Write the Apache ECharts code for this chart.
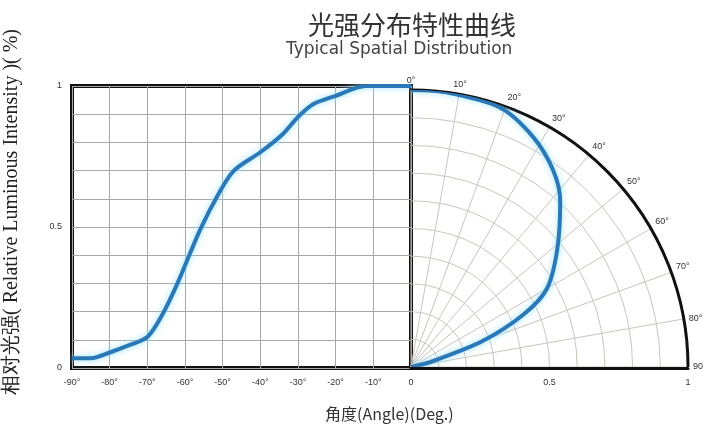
<!DOCTYPE html>
<html>
<head>
<meta charset="utf-8">
<script src="https://cdn.jsdelivr.net/npm/echarts@6/dist/echarts.min.js"></script>
<style>
  html, body { margin: 0; padding: 0; background: #fff; }
  #chart { width: 712px; height: 437px; }
</style>
</head>
<body>
<div id="chart"></div>
<script>
// left plot: angle (deg) vs relative intensity
const leftAngles = [-90, -85, -80, -75, -70, -66, -62, -56, -51, -47, -40, -34, -30, -26, -20, -12, -5, 0];
const leftValues = [0.035, 0.035, 0.055, 0.08, 0.11, 0.19, 0.3, 0.49, 0.62, 0.7, 0.765, 0.83, 0.89, 0.935, 0.965, 1.0, 1.0, 1.0];

// polar plot: angle (deg) vs relative intensity
const polarAngles = [0, 7, 19, 28, 36, 42, 51, 60, 65, 70, 75, 80];
const polarValues = [1.0, 1.0, 0.99, 0.94, 0.875, 0.805, 0.68, 0.567, 0.448, 0.277, 0.083, 0];

const yTickLabels = ['0', '0.5', '1'];
const rTickLabels = ['0.5', '1'];

const titleText = '光强分布特性曲线';
const subTitleText = 'Typical Spatial Distribution';
const xName = '角度(Angle)(Deg.)';
const yName = '相对光强( Relative Luminous Intensity )( %)';

const lineColor = '#2a78b8';
const glowColor = '#8fe0fb';
const gridColor = '#a8a8a8';
const polarGridColor = '#cbc5bd';

const chart = echarts.init(document.getElementById('chart'));

const fmt = (v) => String(Math.round(v * 10) / 10);

chart.setOption({
  backgroundColor: '#fff',
  animation: false,
  title: [
    {
      text: titleText,
      left: 303, top: 7,
      textStyle: { fontSize: 26, fontWeight: 'normal', color: '#333', fontFamily: 'Noto Sans CJK SC' }
    },
    {
      text: subTitleText,
      left: 281, top: 36,
      textStyle: { fontSize: 17, fontWeight: 'normal', color: '#444', fontFamily: 'DejaVu Sans' }
    },
    {
      text: xName,
      left: 320, top: 401,
      textStyle: { fontSize: 16, fontWeight: 'normal', color: '#333', fontFamily: 'Noto Sans CJK SC' }
    }
  ],
  grid: [
    { left: 72, top: 86, width: 339, height: 282, show: true, borderColor: '#111', borderWidth: 4 },
    { left: 411, top: 86, width: 277, height: 282 }
  ],
  polar: { center: [411, 367], radius: 277 },
  xAxis: [
    {
      gridIndex: 0, type: 'value', min: -90, max: 0, interval: 10,
      axisLine: { show: false }, axisTick: { show: false },
      splitLine: { lineStyle: { color: gridColor, width: 1 } },
      axisLabel: {
        fontSize: 9, color: '#333', margin: 10,
        formatter: (v) => (v === 0 ? '0' : v + '°')
      }
    },
    {
      gridIndex: 1, type: 'value', min: 0, max: 1, interval: 0.5,
      axisLine: { show: true, lineStyle: { color: '#111', width: 3 } },
      axisTick: { show: false }, splitLine: { show: false },
      axisLabel: {
        fontSize: 9, color: '#333', margin: 10,
        formatter: (v) => (rTickLabels.includes(fmt(v)) ? fmt(v) : '')
      }
    }
  ],
  yAxis: [
    {
      gridIndex: 0, type: 'value', min: 0, max: 1, interval: 0.1,
      axisLine: { show: false }, axisTick: { show: false },
      splitLine: { lineStyle: { color: gridColor, width: 1 } },
      axisLabel: {
        fontSize: 9, color: '#333', margin: 10,
        formatter: (v) => (yTickLabels.includes(fmt(v)) ? fmt(v) : '')
      },
      name: yName, nameLocation: 'middle', nameGap: 50, nameRotate: 90,
      nameTextStyle: { fontSize: 20, color: '#222', fontFamily: 'Liberation Serif', padding: [0, 0, 0, 30] }
    },
    { gridIndex: 1, type: 'value', min: 0, max: 1, show: false }
  ],
  angleAxis: {
    type: 'value', min: 0, max: 90, interval: 10,
    startAngle: 90, endAngle: 0, clockwise: true,
    axisLine: { show: true, lineStyle: { color: '#111', width: 3 } },
    axisTick: { show: false },
    splitLine: { show: true, lineStyle: { color: polarGridColor, width: 1 } },
    axisLabel: {
      fontSize: 9, color: '#333', margin: 5,
      formatter: (v) => (v === 90 ? '90' : v + '°')
    }
  },
  radiusAxis: {
    type: 'value', min: 0, max: 1, interval: 0.1,
    axisLine: { show: false }, axisTick: { show: false }, axisLabel: { show: false },
    splitLine: { show: true, lineStyle: { color: polarGridColor, width: 1 } }
  },
  series: [
    {
      type: 'line', xAxisIndex: 0, yAxisIndex: 0,
      data: leftAngles.map((a, i) => [a, leftValues[i]]),
      smooth: 0.3, showSymbol: false, z: 5,
      lineStyle: { color: lineColor, width: 4, shadowColor: glowColor, shadowBlur: 6 }
    },
    {
      type: 'line', coordinateSystem: 'polar',
      data: polarAngles.map((a, i) => [polarValues[i], a]),
      smooth: 0.3, showSymbol: false, z: 5,
      lineStyle: { color: lineColor, width: 4, shadowColor: glowColor, shadowBlur: 6 }
    }
  ]
});
</script>
</body>
</html>
